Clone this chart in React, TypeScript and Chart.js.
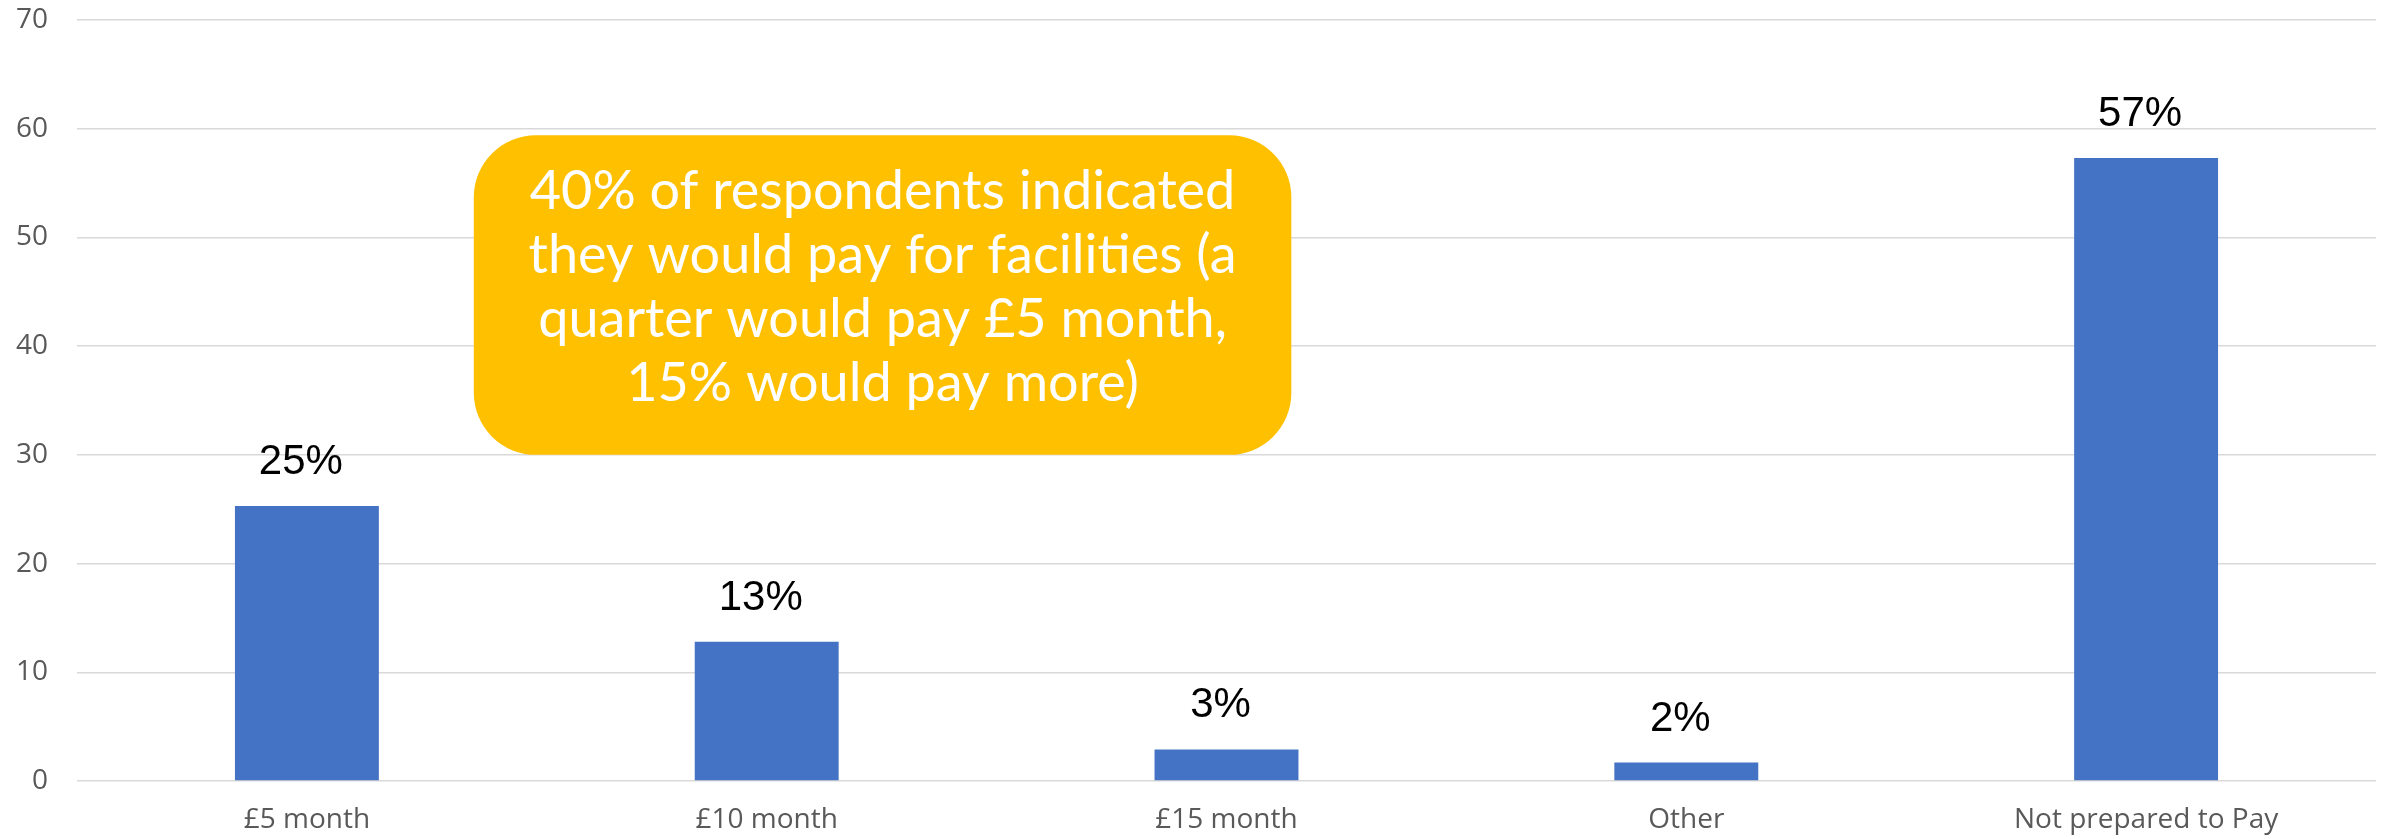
import React, { useEffect, useRef } from "react";
import { Chart, registerables } from "chart.js";

Chart.register(...registerables);

const categories = ["£5 month", "£10 month", "£15 month", "Other", "Not prepared to Pay"];
const values = [25.3, 12.8, 2.9, 1.7, 57.3];
const valueLabels = ["25%", "13%", "3%", "2%", "57%"];
const yTicks = { min: 0, max: 70, step: 10 };
const calloutLines = [
  "40% of respondents indicated",
  "they would pay for facilities (a",
  "quarter would pay £5 month,",
  "15% would pay more)",
];

const barLabelPlugin = {
  id: "barLabels",
  afterDatasetsDraw(chart: any) {
    const ctx = chart.ctx;
    const meta = chart.getDatasetMeta(0);
    ctx.save();
    ctx.fillStyle = "#000000";
    ctx.font = "42px 'Liberation Sans', Arial, sans-serif";
    ctx.textAlign = "center";
    ctx.textBaseline = "alphabetic";
    meta.data.forEach((bar: any, i: number) => {
      ctx.fillText(valueLabels[i], bar.x - 6, bar.y - 32);
    });
    ctx.restore();
  },
};

const calloutPlugin = {
  id: "callout",
  afterDraw(chart: any) {
    const ctx = chart.ctx;
    const xs = chart.scales.x;
    const ys = chart.scales.y;
    const left = xs.getPixelForValue(0.363);
    const right = xs.getPixelForValue(2.141);
    const top = ys.getPixelForValue(59.4);
    const bottom = ys.getPixelForValue(30.0);
    const r = 62;
    ctx.save();
    ctx.fillStyle = "#FFC000";
    ctx.beginPath();
    ctx.roundRect(left, top, right - left, bottom - top, r);
    ctx.fill();
    ctx.fillStyle = "#FFFFFF";
    ctx.font = "54px Lato, 'Noto Sans', sans-serif";
    ctx.textAlign = "center";
    ctx.textBaseline = "alphabetic";
    const cx = (left + right) / 2;
    const lineH = 64;
    const firstBase = top + 74;
    calloutLines.forEach((line, i) => {
      ctx.fillText(line, cx, firstBase + i * lineH);
    });
    ctx.restore();
  },
};

export default function App() {
  const ref = useRef<HTMLCanvasElement | null>(null);
  useEffect(() => {
    document.body.style.margin = "0";
    const canvas = ref.current!;
    const chart = new Chart(canvas, {
      type: "bar",
      data: {
        labels: categories,
        datasets: [
          {
            data: values,
            backgroundColor: "#4472C4",
            borderWidth: 0,
            barPercentage: 0.626,
            categoryPercentage: 0.5,
          },
        ],
      },
      options: {
        animation: false,
        responsive: false,
        devicePixelRatio: 1,
        layout: { padding: { top: 20, right: 14, left: 0, bottom: 0 } },
        plugins: {
          legend: { display: false },
          tooltip: { enabled: false },
        },
        scales: {
          x: {
            grid: { display: false, drawTicks: false },
            border: { display: false },
            ticks: {
              color: "#595959",
              font: { family: "'Open Sans', sans-serif", size: 28 },
              padding: 22,
              maxRotation: 0,
              autoSkip: false,
            },
            afterFit(scale: any) {
              scale.height = 58;
              scale.paddingLeft = 0;
              scale.paddingRight = 0;
            },
          },
          y: {
            min: yTicks.min,
            max: yTicks.max,
            grid: { color: "#D9D9D9", lineWidth: 1.5, drawTicks: false },
            border: { display: false },
            ticks: {
              stepSize: yTicks.step,
              color: "#595959",
              font: { family: "'Open Sans', sans-serif", size: 28 },
              padding: 29,
            },
            afterFit(scale: any) {
              scale.width = 77;
              scale.paddingTop = 0;
              scale.paddingBottom = 0;
            },
          },
        },
      },
      plugins: [barLabelPlugin, calloutPlugin],
    });
    return () => chart.destroy();
  }, []);
  return (
    <div style={{ position: "absolute", left: 0, top: 0, width: 2390, height: 839, background: "#fff" }}>
      <canvas ref={ref} width={2390} height={839} style={{ width: 2390, height: 839 }} />
    </div>
  );
}
